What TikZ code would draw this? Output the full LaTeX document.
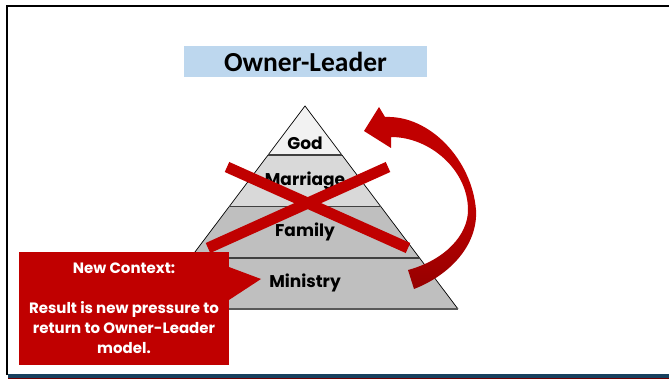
\documentclass[tikz,border=0pt]{standalone}
\usepackage{fontspec}
\setmainfont{Poppins}
\newfontfamily\titlefont{Carlito}
\usetikzlibrary{positioning,calc}
\definecolor{slidered}{RGB}{192,0,0}
\definecolor{deepred}{RGB}{150,0,0}
\definecolor{titleblue}{RGB}{189,215,238}
\definecolor{bandblue}{RGB}{23,64,94}
\definecolor{bandred}{RGB}{110,0,0}
\definecolor{tierone}{RGB}{242,242,242}
\definecolor{tiertwo}{RGB}{217,217,217}
\definecolor{tierthree}{RGB}{191,191,191}

\tikzset{
  tierlabel/.style={inner sep=0pt, font=\fontsize{17}{19}\selectfont\bfseries},
  tierline/.style={draw=black!75, line width=1.4pt},
  cross/.style={draw=slidered, line width=11pt},
}

\begin{document}
\begin{tikzpicture}[x=1pt, y=-1pt]
      \useasboundingbox (0,0) rectangle (669,379);

      % slide frame
      \draw[line width=2pt] (7,375) -- (7,6) -- (669,6);
      \fill[bandblue] (8,373.5) rectangle (669,378);
      \fill[bandred] (8,378) rectangle (669,379);

      % title
      \node[fill=titleblue, minimum width=243, minimum height=31, inner sep=0pt,
            font=\titlefont\fontsize{27.5}{29}\selectfont\bfseries] (title) at (305.5,62) {Owner-Leader};

      % pyramid
      \coordinate (apex) at (305,106);
      \coordinate (bl) at (152,309);
      \coordinate (br) at (458,309);
      \coordinate (l1) at ($(apex)!0.2414!(bl)$);
      \coordinate (r1) at ($(apex)!0.2414!(br)$);
      \coordinate (l2) at ($(apex)!0.496!(bl)$);
      \coordinate (r2) at ($(apex)!0.496!(br)$);
      \coordinate (l3) at ($(apex)!0.7488!(bl)$);
      \coordinate (r3) at ($(apex)!0.7488!(br)$);

      \fill[tierone] (apex) -- (r1) -- (l1) -- cycle;
      \fill[tiertwo] (l1) -- (r1) -- (r2) -- (l2) -- cycle;
      \fill[tierthree] (l2) -- (r2) -- (r3) -- (l3) -- cycle;
      \fill[tierthree] (l3) -- (r3) -- (br) -- (bl) -- cycle;
      \draw[line width=0.7pt] (bl) -- (apex) -- (br);
      \draw[tierline] (l1) -- (r1);
      \draw[tierline] (l2) -- (r2);
      \draw[tierline] (l3) -- (r3);
      \draw[draw=black!65, line width=1.4pt] (bl) -- (br);

      \node[tierlabel] (god) at (305,143) {God};
      \node[tierlabel] (marriage) at (305,181) {Marriage};
      \node[tierlabel] (family) at (305,232) {Family};
      \node[tierlabel] (ministry) at (305,283) {Ministry};

      % red cross
      \draw[cross] (227,167) -- (408,248);
      \draw[cross] (388,167) -- (208,248);

      % curved arrow back to the top
      \shade[top color=slidered, bottom color=deepred, middle color=slidered]
        (364,131) -- (379,107) -- (385,117)
        .. controls (430,115) and (472,160) .. (476,210)
        .. controls (478,245) and (450,275) .. (414,289)
        -- (408,270)
        .. controls (445,260) and (468,235) .. (468,210)
        .. controls (468,170) and (430,137) .. (391,137)
        -- (391,148) -- cycle;

      % callout
      \coordinate (ptip) at (261,279);
      \node[fill=slidered, text=white, minimum width=209.5, minimum height=113,
            inner sep=0pt, align=center, font=\fontsize{15}{20}\selectfont\bfseries]
            (context) at (124,308.5)
            {New Context:\\[20pt]Result is new pressure to\\return to Owner-Leader\\model.};
      \fill[slidered] (context.east |- 0,267) -- (ptip) -- (context.east |- 0,300) -- cycle;
\end{tikzpicture}
\end{document}
